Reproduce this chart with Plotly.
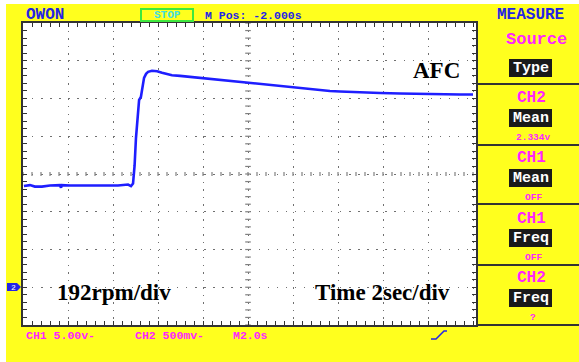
import plotly.graph_objects as go

# CH2 trace (seconds across the screen, volts)
time_s = [0.04, 0.31, 0.53, 0.84, 1.20, 1.64, 1.69, 1.73, 2.09, 2.53, 2.98, 3.42, 3.87, 4.22,
          4.67, 4.80, 4.89, 4.96, 5.02, 5.09, 5.16, 5.24, 5.33, 5.38, 5.47, 5.56, 5.73, 5.96,
          6.18, 6.40, 6.62, 6.98, 7.42, 7.87, 8.31, 8.76, 9.20, 9.64, 10.09, 10.53, 10.98,
          11.42, 11.87, 12.31, 12.76, 13.20, 13.64, 14.09, 14.53, 14.98, 15.87, 16.76, 17.64,
          18.53, 19.42, 20.0]
ch2_v = [1.340, 1.353, 1.333, 1.333, 1.347, 1.353, 1.320, 1.353, 1.347, 1.347, 1.347, 1.347,
         1.353, 1.347, 1.360, 1.340, 1.373, 1.613, 1.973, 2.253, 2.480, 2.520, 2.680, 2.773,
         2.827, 2.853, 2.867, 2.860, 2.840, 2.827, 2.807, 2.800, 2.787, 2.773, 2.760, 2.747,
         2.733, 2.720, 2.707, 2.693, 2.680, 2.667, 2.647, 2.633, 2.620, 2.613, 2.600, 2.593,
         2.587, 2.580, 2.573, 2.567, 2.560, 2.560, 2.553, 2.553]

# Scope settings
sec_per_div = 2.0
volt_per_div = 0.5
h_divs = 10
v_divs = 8
ground_div = -3  # CH2 ground, in divisions from screen centre

# Text on the screen
header_left = "OWON"
run_state = "STOP"
m_pos = "M Pos: -2.000s"
menu_title = "MEASURE"
menu_heads = ["Source", "CH2", "CH1", "CH1", "CH2"]
menu_keys = ["Type", "Mean", "Mean", "Freq", "Freq"]
menu_values = ["", "2.334v", "OFF", "OFF", "?"]
status_texts = ["CH1 5.00v-", "CH2 500mv-", "M2.0s"]
overlay_texts = ["AFC", "192rpm/div", "Time 2sec/div"]

W, H = 579, 362
L, R, T, B = 23, 476, 23, 325

YELLOW = "#ffff1e"
BLUE = "#2424e6"
MAGENTA = "#ff24ff"
DARK = "#333333"
MONO = "Liberation Mono"
SERIF = "Liberation Serif"


def px(x):
    return (x - L) / (R - L)


def py(y):
    return (B - y) / (B - T)


x_max = h_divs * sec_per_div * (R - L) / 450.0
y_lo = (-v_divs / 2 - ground_div) * volt_per_div
y_hi = (v_divs / 2 - ground_div) * volt_per_div
x_mid = h_divs * sec_per_div / 2
y_mid = (y_lo + y_hi) / 2

fig = go.Figure()

# centre-line graticule marks
minor_x = [i * sec_per_div / 5 for i in range(h_divs * 5 + 1)]
minor_y = [y_lo + i * volt_per_div / 5 for i in range(v_divs * 5 + 1)]
fig.add_trace(go.Scatter(x=[x_mid] * len(minor_y), y=minor_y, mode="markers", hoverinfo="skip",
                         marker=dict(symbol="line-ew", size=4, line=dict(width=1.2, color="#808080"))))
fig.add_trace(go.Scatter(x=minor_x, y=[y_mid] * len(minor_x), mode="markers", hoverinfo="skip",
                         marker=dict(symbol="line-ns", size=3, line=dict(width=1.2, color="#808080"))))

fig.add_trace(go.Scatter(x=time_s, y=ch2_v, mode="lines",
                         line=dict(color="#1e1eff", width=2.6), hoverinfo="skip"))

axis_common = dict(showline=True, linecolor=DARK, linewidth=2, mirror="allticks",
                   ticks="inside", ticklen=4, tickcolor=DARK, tickwidth=1,
                   showticklabels=False, zeroline=False, gridcolor="#707070", gridwidth=1.4)

fig.update_xaxes(range=[0, x_max], dtick=sec_per_div, tick0=0, griddash="1.4px,6.15px",
                 minor=dict(dtick=sec_per_div / 5, ticks="inside", ticklen=4, tickcolor=DARK,
                            showgrid=False),
                 **axis_common)
fig.update_yaxes(range=[y_lo, y_hi], dtick=volt_per_div, tick0=y_lo, griddash="1.4px,7.66px",
                 minor=dict(dtick=volt_per_div / 5, ticks="inside", ticklen=4, tickcolor=DARK,
                            showgrid=False),
                 **axis_common)

shapes = []
# white outer margin
shapes.append(dict(type="rect", xref="paper", yref="paper", x0=px(0), x1=px(6), y0=py(H), y1=py(0),
                   fillcolor="white", line=dict(width=0), layer="above"))
shapes.append(dict(type="rect", xref="paper", yref="paper", x0=px(0), x1=px(W), y0=py(4), y1=py(0),
                   fillcolor="white", line=dict(width=0), layer="above"))
# menu panel dividers
for yy in [84, 145, 204, 265, 325]:
    shapes.append(dict(type="line", xref="paper", yref="paper", x0=px(477), x1=px(W),
                       y0=py(yy), y1=py(yy), line=dict(color=DARK, width=2)))
# STOP badge
shapes.append(dict(type="rect", xref="paper", yref="paper", x0=px(141), x1=px(193),
                   y0=py(21), y1=py(9), line=dict(color="#3ee83e", width=2),
                   fillcolor=YELLOW))

annotations = []


def note(text, x, y, size, color, font=MONO, anchor="center", bold=True):
    annotations.append(dict(text=text, x=px(x), y=py(y), xref="paper", yref="paper",
                            xanchor=anchor, yanchor="middle", showarrow=False,
                            font=dict(family=font, size=size, color=color,
                                      weight="bold" if bold else "normal")))


note(header_left, 24, 15, 16, BLUE, anchor="left")
note(run_state, 167, 15, 11, "#44dede")
note(m_pos, 203, 15, 11.5, BLUE, anchor="left")
note(menu_title, 530, 15, 16, BLUE)

# menu panel entries: heading, key box, value
head_y = [40, 98, 158, 219, 278]
box_top = [59, 109, 169, 229, 289]
value_y = [None, 137, 197, 257, 317]
for head, key, val, hy, bt, vy in zip(menu_heads, menu_keys, menu_values, head_y, box_top, value_y):
    note(head, 536 if head == "Source" else 531, hy, 17 if head == "Source" else 16, MAGENTA)
    shapes.append(dict(type="rect", xref="paper", yref="paper", x0=px(509), x1=px(552),
                       y0=py(bt + 18), y1=py(bt), fillcolor="#1a1a1a", line=dict(width=0)))
    note(key, 530.5, bt + 9, 15, "white")
    if val:
        note(val, 533, vy, 9.5, MAGENTA)

# status line
note(status_texts[0], 24, 335, 11.5, MAGENTA, anchor="left")
note(status_texts[1], 133, 335, 11.5, MAGENTA, anchor="left")
note(status_texts[2], 231, 335, 11.5, MAGENTA, anchor="left")

# trigger edge icon
edge = [(431, 339), (436, 339), (444, 331), (447, 331)]
path = "M " + " L ".join(f"{px(a):.5f},{py(b):.5f}" for a, b in edge)
shapes.append(dict(type="path", xref="paper", yref="paper", path=path,
                   line=dict(color=BLUE, width=1.5)))

# CH2 ground marker
gy = 287
marker_pts = [(7, gy - 4), (17, gy - 4), (21, gy), (17, gy + 4), (7, gy + 4)]
path = "M " + " L ".join(f"{px(a):.5f},{py(b):.5f}" for a, b in marker_pts) + " Z"
shapes.append(dict(type="path", xref="paper", yref="paper", path=path,
                   fillcolor=BLUE, line=dict(width=0)))
note("2", 13, gy, 8, "white", bold=False)

# overlay captions
note(overlay_texts[0], 411, 70, 23, "black", font=SERIF, anchor="left")
note(overlay_texts[1], 55, 292, 23, "black", font=SERIF, anchor="left")
note(overlay_texts[2], 313, 292, 23, "black", font=SERIF, anchor="left")

fig.update_layout(width=W, height=H, margin=dict(l=L, r=W - R, t=T, b=H - B, pad=0),
                  paper_bgcolor=YELLOW, plot_bgcolor="white", showlegend=False,
                  shapes=shapes, annotations=annotations)

fig.write_html("out.html")
